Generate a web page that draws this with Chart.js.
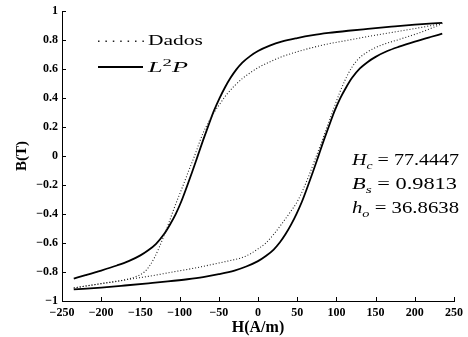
<!DOCTYPE html>
<html>
<head>
<meta charset="utf-8">
<script src="https://cdn.jsdelivr.net/npm/chart.js@4.4.1/dist/chart.umd.min.js"></script>
<style>
  html, body { margin: 0; padding: 0; background: #fff; }
  canvas { display: block; }
</style>
</head>
<body>
<canvas id="laco" width="468" height="337"></canvas>
<script>
// ramo descendente / ascendente do modelo L2P
const hSolidDown = [-235, -220, -200, -180, -165, -150, -140, -130, -120, -112, -105, -98, -91, -84, -77, -70, -63, -56, -49, -42, -35, -28, -20, -10, 0, 15, 30, 50, 70, 90, 115, 140, 170, 200, 235];
const bSolidDown = [-0.845, -0.822, -0.79, -0.755, -0.725, -0.685, -0.65, -0.605, -0.54, -0.47, -0.4, -0.315, -0.215, -0.11, 0.0, 0.11, 0.215, 0.315, 0.4, 0.475, 0.54, 0.595, 0.645, 0.69, 0.725, 0.762, 0.79, 0.815, 0.835, 0.85, 0.865, 0.878, 0.893, 0.907, 0.92];
const hSolidUp = [-235, -200, -170, -140, -115, -90, -70, -50, -30, -15, 0, 10, 20, 28, 35, 42, 49, 56, 63, 70, 77, 84, 91, 98, 105, 112, 120, 130, 140, 150, 165, 180, 200, 220, 235];
const bSolidUp = [-0.92, -0.907, -0.893, -0.878, -0.865, -0.85, -0.835, -0.815, -0.79, -0.762, -0.725, -0.69, -0.645, -0.595, -0.54, -0.475, -0.4, -0.315, -0.215, -0.11, 0.0, 0.11, 0.215, 0.315, 0.4, 0.47, 0.54, 0.605, 0.65, 0.685, 0.725, 0.755, 0.79, 0.822, 0.845];

// dados medidos
const hDataDown = [-235, -200, -180, -165, -155, -145, -138, -132, -126, -120, -114, -108, -102, -95, -88, -81, -75, -70, -65, -60, -55, -50, -40, -30, -20, -10, 0, 15, 30, 50, 70, 90, 115, 140, 178, 210, 235];
const bDataDown = [-0.91, -0.88, -0.865, -0.848, -0.83, -0.8, -0.755, -0.7, -0.63, -0.55, -0.465, -0.375, -0.29, -0.195, -0.095, 0.0, 0.09, 0.16, 0.215, 0.265, 0.31, 0.35, 0.425, 0.485, 0.535, 0.575, 0.61, 0.65, 0.685, 0.72, 0.75, 0.775, 0.8, 0.825, 0.86, 0.89, 0.915];
const hDataUp = [-235, -200, -168, -140, -105, -80, -50, -35, -20, -10, 0, 10, 20, 30, 40, 50, 58, 66, 73, 80, 88, 96, 104, 112, 120, 128, 140, 157, 180, 200, 220, 235];
const bDataUp = [-0.91, -0.88, -0.853, -0.83, -0.796, -0.772, -0.738, -0.72, -0.7, -0.675, -0.64, -0.6, -0.54, -0.47, -0.395, -0.315, -0.225, -0.12, -0.02, 0.08, 0.2, 0.32, 0.435, 0.535, 0.615, 0.67, 0.72, 0.765, 0.805, 0.84, 0.88, 0.915];

const xTicks = [-250, -200, -150, -100, -50, 0, 50, 100, 150, 200, 250];
const yTicks = [-1, -0.8, -0.6, -0.4, -0.2, 0, 0.2, 0.4, 0.6, 0.8, 1];

const params = [
  ['H', 'c', ' = 77.4447'],
  ['B', 's', ' = 0.9813'],
  ['h', 'o', ' = 36.8638']
];

const pts = (hs, bs) => hs.map((h, i) => ({ x: h, y: bs[i] }));
const minus = v => String(v).replace('-', '\u2212');

const dotted = { borderColor: '#222', borderWidth: 1.1, borderDash: [1, 2] };
const solid = { borderColor: '#000', borderWidth: 1.8 };

function line(data, style) {
  return Object.assign({
    data: data,
    showLine: true,
    pointRadius: 0,
    cubicInterpolationMode: 'monotone',
    fill: false
  }, style);
}

// texto "esticado" como na figura original
function richText(ctx, parts, x, y, width) {
  let total = 0;
  parts.forEach(p => { ctx.font = p.font; total += ctx.measureText(p.t).width; });
  ctx.save();
  ctx.translate(x, y);
  ctx.scale(width / total, 1);
  let cx = 0;
  parts.forEach(p => {
    ctx.font = p.font;
    ctx.fillText(p.t, cx, p.dy || 0);
    cx += ctx.measureText(p.t).width;
  });
  ctx.restore();
}

const extras = {
  id: 'extras',
  afterDraw(chart) {
    const ctx = chart.ctx;
    const sx = chart.scales.x, sy = chart.scales.y;
    const a = chart.chartArea;
    ctx.save();
    ctx.strokeStyle = '#000';
    ctx.lineWidth = 1;
    ctx.beginPath();
    xTicks.forEach(v => {
      const px = Math.round(sx.getPixelForValue(v)) + 0.5;
      ctx.moveTo(px, a.bottom);
      ctx.lineTo(px, a.bottom - 4);
    });
    yTicks.forEach(v => {
      const py = Math.round(sy.getPixelForValue(v)) + 0.5;
      ctx.moveTo(a.left, py);
      ctx.lineTo(a.left + 4, py);
    });
    ctx.stroke();

    // legenda
    ctx.fillStyle = '#222';
    for (let i = 0; i < 7; i++) ctx.fillRect(98 + i * 7.4, 40.5, 1.5, 1.5);
    ctx.strokeStyle = '#000';
    ctx.lineWidth = 2;
    ctx.beginPath();
    ctx.moveTo(98, 67);
    ctx.lineTo(143, 67);
    ctx.stroke();

    ctx.fillStyle = '#000';
    ctx.textBaseline = 'alphabetic';
    richText(ctx, [{ t: 'Dados', font: '14px "Liberation Serif"' }], 148, 45, 55);
    richText(ctx, [
      { t: 'L', font: 'italic 14px "Liberation Serif"' },
      { t: '2', font: '10px "Liberation Serif"', dy: -6 },
      { t: 'P', font: 'italic 14px "Liberation Serif"' }
    ], 148, 72, 40);

    const widths = [107, 105, 107];
    params.forEach((p, i) => {
      richText(ctx, [
        { t: p[0], font: 'italic 16px "Liberation Serif"' },
        { t: p[1], font: 'italic 11px "Liberation Serif"', dy: 4 },
        { t: p[2], font: '16px "Liberation Serif"' }
      ], 352, 165 + i * 24, widths[i]);
    });
    ctx.restore();
  }
};

const tickFont = { family: 'Liberation Serif', size: 12, weight: 'bold' };

new Chart(document.getElementById('laco'), {
  type: 'scatter',
  data: {
    datasets: [
      line(pts(hDataDown, bDataDown), dotted),
      line(pts(hDataUp, bDataUp), dotted),
      line(pts(hSolidDown, bSolidDown), solid),
      line(pts(hSolidUp, bSolidUp), solid)
    ]
  },
  options: {
    responsive: false,
    animation: false,
    devicePixelRatio: 1,
    layout: { padding: { top: 9, right: 11, left: 0, bottom: 0 } },
    plugins: { legend: { display: false }, tooltip: { enabled: false } },
    scales: {
      x: {
        type: 'linear',
        min: -250, max: 250,
        afterBuildTicks: s => { s.ticks = xTicks.map(v => ({ value: v })); },
        afterFit: s => { s.height = 36; },
        grid: { display: true, drawOnChartArea: false, drawTicks: false },
        border: { display: true, color: '#000', width: 1 },
        ticks: {
          color: '#000', font: tickFont, padding: 5,
          autoSkip: false, maxRotation: 0,
          callback: v => minus(v)
        },
        title: {
          display: true, text: 'H(A/m)', color: '#000',
          font: { family: 'Liberation Serif', size: 16, weight: 'bold', lineHeight: 1.2 },
          padding: { top: 0, bottom: 0 }
        }
      },
      y: {
        type: 'linear',
        min: -1, max: 1,
        afterBuildTicks: s => { s.ticks = yTicks.map(v => ({ value: v })); },
        afterFit: s => { s.width = 62; },
        grid: { display: true, drawOnChartArea: false, drawTicks: false },
        border: { display: true, color: '#000', width: 1 },
        ticks: {
          color: '#000', font: tickFont, padding: 4,
          callback: v => minus(Number(v.toFixed(1)))
        },
        title: {
          display: true, text: 'B(T)', color: '#000',
          font: { family: 'Liberation Serif', size: 15, weight: 'bold', lineHeight: 1.2 },
          padding: { top: 13, bottom: 0 }
        }
      }
    }
  },
  plugins: [extras]
});
</script>
</body>
</html>
